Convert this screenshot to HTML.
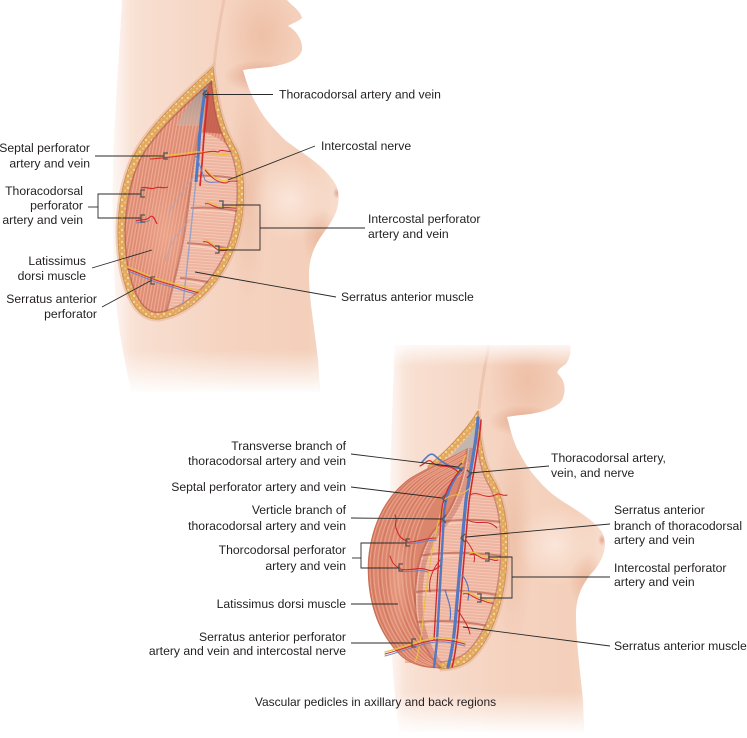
<!DOCTYPE html>
<html><head><meta charset="utf-8"><style>
html,body{margin:0;padding:0;background:#fff;}
svg{display:block;}
text{font-family:"Liberation Sans",Arial,sans-serif;font-size:12.2px;fill:#231f20;}
</style></head><body>
<svg width="747" height="738" viewBox="0 0 747 738" xmlns="http://www.w3.org/2000/svg">
<defs>
 <linearGradient id="skinT" gradientUnits="userSpaceOnUse" x1="112" y1="0" x2="342" y2="0">
  <stop offset="0" stop-color="#fcede5"/><stop offset="0.12" stop-color="#f8dfd1"/>
  <stop offset="0.5" stop-color="#f5d3c0"/><stop offset="0.85" stop-color="#f4d0bb"/>
  <stop offset="1" stop-color="#f8dfd1"/>
 </linearGradient>
 <linearGradient id="skinB" gradientUnits="userSpaceOnUse" x1="388" y1="0" x2="607" y2="0">
  <stop offset="0" stop-color="#fcede5"/><stop offset="0.12" stop-color="#f8dfd1"/>
  <stop offset="0.5" stop-color="#f5d3c0"/><stop offset="0.85" stop-color="#f4d0bb"/>
  <stop offset="1" stop-color="#f8dfd1"/>
 </linearGradient>
 <linearGradient id="fadeDown" x1="0" y1="0" x2="0" y2="1">
  <stop offset="0" stop-color="#fff" stop-opacity="0"/><stop offset="1" stop-color="#fff" stop-opacity="1"/>
 </linearGradient>
 <linearGradient id="fadeUp" x1="0" y1="0" x2="0" y2="1">
  <stop offset="0" stop-color="#fff" stop-opacity="1"/><stop offset="1" stop-color="#fff" stop-opacity="0"/>
 </linearGradient>
 <linearGradient id="fadeLeft" x1="0" y1="0" x2="1" y2="0">
  <stop offset="0" stop-color="#fff" stop-opacity="0.9"/><stop offset="1" stop-color="#fff" stop-opacity="0"/>
 </linearGradient>
 <linearGradient id="grayT" x1="0" y1="0" x2="0" y2="1">
  <stop offset="0" stop-color="#9f8f88"/><stop offset="1" stop-color="#c9b3a8" stop-opacity="0.6"/>
 </linearGradient>
 <radialGradient id="rgNeck"><stop offset="0" stop-color="#ecb99e" stop-opacity="0.75"/><stop offset="1" stop-color="#ecb99e" stop-opacity="0"/></radialGradient>
 <radialGradient id="rgChin"><stop offset="0" stop-color="#df9f82" stop-opacity="0.85"/><stop offset="1" stop-color="#df9f82" stop-opacity="0"/></radialGradient>
 <radialGradient id="rgShade"><stop offset="0" stop-color="#e8b195" stop-opacity="0.8"/><stop offset="1" stop-color="#e8b195" stop-opacity="0"/></radialGradient>
 <radialGradient id="rgSide"><stop offset="0" stop-color="#ebbaa0" stop-opacity="0.7"/><stop offset="1" stop-color="#ebbaa0" stop-opacity="0"/></radialGradient>
 <radialGradient id="rgLight"><stop offset="0" stop-color="#fcebe1" stop-opacity="0.8"/><stop offset="1" stop-color="#fcebe1" stop-opacity="0"/></radialGradient>
 <radialGradient id="rgNip"><stop offset="0" stop-color="#e3a593"/><stop offset="1" stop-color="#e3a593" stop-opacity="0"/></radialGradient>
 <radialGradient id="rgLat"><stop offset="0" stop-color="#f4b49c" stop-opacity="0.55"/><stop offset="1" stop-color="#f4b49c" stop-opacity="0"/></radialGradient>
 <pattern id="fatDots" width="6" height="6" patternUnits="userSpaceOnUse">
  <rect width="6" height="6" fill="#e2a95f"/><circle cx="2" cy="2" r="1.2" fill="#f4d69b"/><circle cx="5" cy="4.6" r="1" fill="#efc884"/>
 </pattern>
 <pattern id="latT" width="3.2" height="10" patternUnits="userSpaceOnUse" patternTransform="rotate(10)">
  <rect width="3.2" height="10" fill="#de8c73"/><rect width="1.2" height="10" fill="#efab95"/>
 </pattern>
 <pattern id="serT" width="10" height="3" patternUnits="userSpaceOnUse" patternTransform="rotate(4)">
  <rect width="10" height="3" fill="#eeb4a0"/><rect width="10" height="0.8" fill="#f6cdbc"/>
 </pattern>
 <clipPath id="bodyTc"><path d="M122,0 L287,0 C292,6 300,10 302,18 C298,22 290,24 288,26 C296,30 303,40 302,50 C299,60 288,64 270,67 C258,68 248,69 243,70 C247,85 252,97 257,105 C265,120 275,130 285,140 C300,152 325,165 336,185 C344,205 332,222 322,235 C313,248 309,260 309,275 C309,300 315,330 318,360 L320,392 L132,392 C126,370 118,330 115,290 C112,240 112,170 115,120 C117,80 120,40 122,0 Z"/></clipPath>
 <clipPath id="bodyBc"><path d="M395,345 L570,345 C571,352 570,358 566,364 C560,368 556,371 558,374 C565,380 566,390 563,398 C560,406 548,411 530,414 C520,415 512,416 507,417 C511,432 514,444 519,452 C528,470 540,483 550,492 C565,505 590,515 602,532 C610,548 600,565 590,575 C580,588 576,600 576,615 C576,640 580,670 583,700 L584,732 L400,732 C394,700 391,650 390,600 C389,540 390,470 392,420 C393,390 394,365 395,345 Z"/></clipPath>
 <clipPath id="clipT"><path d="M212,80 C214,103 217,126 230,149 C241,170 241,214 228,248 C216,278 192,307 160,313 C143,315 133,296 127,266 C121,230 125,184 143,153 C161,124 192,98 212,80 Z"/></clipPath>
 <clipPath id="clipB"><path d="M477,424 C478,445 479,465 488,482 C500,502 503,532 501,562 C499,598 487,634 467,653 C458,660 448,662 440,663 L405,663 L405,500 L432,470 C447,458 465,442 477,424 Z"/></clipPath>
 <clipPath id="latBc"><path d="M468,448 C450,458 430,466 410,478 C385,496 371,525 368,560 C366,600 378,635 402,657 C413,666 428,669 442,668 C428,655 416,630 416,600 C416,565 425,540 440,525 C455,508 465,480 468,448 Z"/></clipPath>
 <path id="latArc" d="M470,444 C452,456 430,466 410,478 C385,496 371,525 368,560 C366,600 378,635 402,657 C413,666 428,669 442,668"/>
</defs>

<!-- ================= TOP FIGURE ================= -->
<g clip-path="url(#bodyTc)">
 <rect x="100" y="0" width="260" height="400" fill="url(#skinT)"/>
 <ellipse cx="262" cy="35" rx="38" ry="55" fill="url(#rgNeck)"/>
 <ellipse cx="258" cy="76" rx="34" ry="16" fill="url(#rgChin)"/>
 <path d="M214,66 C216,45 220,20 224,0" stroke="#e9bea6" stroke-width="3" fill="none" opacity="0.7"/>
 <ellipse cx="248" cy="190" rx="20" ry="115" fill="url(#rgSide)"/>
 <ellipse cx="320" cy="238" rx="18" ry="30" fill="url(#rgShade)"/>
 <ellipse cx="290" cy="200" rx="38" ry="40" fill="url(#rgLight)"/>
 <ellipse cx="337" cy="193" rx="4" ry="6" fill="url(#rgNip)"/>
 <rect x="100" y="0" width="30" height="400" fill="url(#fadeLeft)"/>
 <rect x="100" y="350" width="260" height="44" fill="url(#fadeDown)"/>
</g>
<!-- top incision -->
<path d="M213,67 C216,92 220,122 234,146 C247,166 247,218 233,251 C220,282 194,313 160,319 C139,321 127,300 121,268 C114,228 119,180 138,148 C158,116 193,86 213,67 Z" fill="none" stroke="#eab59a" stroke-width="5" opacity="0.6"/>
<path d="M213,67 C216,92 220,122 234,146 C247,166 247,218 233,251 C220,282 194,313 160,319 C139,321 127,300 121,268 C114,228 119,180 138,148 C158,116 193,86 213,67 Z" fill="url(#fatDots)" stroke="#c98c4c" stroke-width="0.8"/>
<g clip-path="url(#clipT)">
 <rect x="110" y="60" width="140" height="270" fill="url(#latT)"/>
 <ellipse cx="165" cy="235" rx="28" ry="60" fill="url(#rgLat)"/>
 <path d="M212,80 L202,126 L176,126 C184,110 198,92 212,80 Z" fill="url(#grayT)"/>
 <path d="M207,88 L212,80 C213,100 215,118 222,134 L203,132 Z" fill="#c45a4b" opacity="0.85"/>
 <path d="M199,132 C212,134 224,140 231,150 C242,172 242,214 229,248 C217,278 193,307 166,314 C173,285 183,250 187,215 C191,185 194,155 199,132 Z" fill="url(#serT)"/>
 <g fill="none" stroke="#c47562" stroke-width="2" opacity="0.85">
  <path d="M195,176 C210,175 225,176 242,180"/>
  <path d="M191,208 C208,207 225,208 242,212"/>
  <path d="M187,243 C203,244 218,246 235,250"/>
  <path d="M180,278 C195,279 208,282 222,285"/>
 </g>
 <g fill="none" stroke="#f7d2c2" stroke-width="1.2">
  <path d="M195,179 C210,178 225,179 242,183"/>
  <path d="M191,211 C208,210 225,211 242,215"/>
  <path d="M187,246 C203,247 218,249 235,253"/>
  <path d="M180,281 C195,282 208,285 222,288"/>
 </g>
 <path d="M199,132 C194,155 191,185 187,215 C183,250 173,285 166,314" stroke="#b46250" stroke-width="2" fill="none" opacity="0.6"/>
 <path d="M212,80 C214,103 217,126 230,149 C241,170 241,214 228,248 C216,278 192,307 160,313 C143,315 133,296 127,266 C121,230 125,184 143,153 C161,124 192,98 212,80 Z" fill="none" stroke="#9c3d2e" stroke-width="3" opacity="0.45"/>
 <path d="M197,170 C193,210 188,260 182,312" stroke="#8a9bcc" stroke-width="1.4" fill="none" opacity="0.8"/>
 <path d="M195,175 C185,190 175,200 168,215 M190,220 C178,232 170,242 165,262" stroke="#a8a8c4" stroke-width="1" fill="none" opacity="0.7"/>
 <path d="M205,90 C203,105 200,125 199,145 C198,160 197,170 196,182" stroke="#4f78c4" stroke-width="3" fill="none"/>
 <path d="M208,92 C207,110 204,130 203,150 C202,165 201,175 200,186" stroke="#d42a2a" stroke-width="1.7" fill="none"/>
 <path d="M150,157 C165,156 180,154 195,152 C205,151 215,156 230,154" stroke="#e8c040" stroke-width="1.2" fill="none"/>
 <path d="M150,159 C165,158 180,156 195,154 C205,153 210,150 218,152 C222,148 226,153 232,151" stroke="#d42a2a" stroke-width="1.1" fill="none"/>
 <path d="M196,156 C200,165 202,172 205,180 C210,185 218,180 224,183" stroke="#6a86c6" stroke-width="1" fill="none"/>
 <path d="M205,168 C210,175 216,180 226,181 C231,177 236,181 241,178" stroke="#e8c040" stroke-width="1.2" fill="none"/>
 <path d="M205,170 C211,177 217,183 226,183 C231,179 236,183 241,180" stroke="#d42a2a" stroke-width="1" fill="none"/>
 <path d="M141,188 C146,186 150,190 155,188 C160,186 163,189 168,187" stroke="#d42a2a" stroke-width="1.2" fill="none"/>
 <path d="M136,221 C141,219 146,221 150,217 C153,214 155,220 157,224" stroke="#d42a2a" stroke-width="1.2" fill="none"/>
 <path d="M136,223 C141,222 146,223 150,220" stroke="#6a86c6" stroke-width="1" fill="none"/>
 <path d="M205,202 C210,200 215,207 222,206 C227,204 232,207 236,206" stroke="#e8c040" stroke-width="1.2" fill="none"/>
 <path d="M205,204 C210,202 215,209 222,208 C227,206 232,209 236,208" stroke="#d42a2a" stroke-width="1" fill="none"/>
 <path d="M203,240 C208,238 213,245 218,248 C222,250 226,247 230,249" stroke="#e8c040" stroke-width="1.2" fill="none"/>
 <path d="M203,242 C208,240 213,247 218,250 C222,252 226,249 230,251" stroke="#d42a2a" stroke-width="1" fill="none"/>
 <path d="M122,265 C135,269 150,277 165,281 C180,285 190,289 200,291" stroke="#e8c040" stroke-width="1.3" fill="none"/>
 <path d="M122,267 C135,271 150,279 165,283 C180,287 190,291 200,293" stroke="#d42a2a" stroke-width="1" fill="none"/>
 <path d="M122,269 C135,273 150,281 165,285 C180,289 190,293 200,295" stroke="#6a86c6" stroke-width="1" fill="none"/>
</g>

<!-- ================= BOTTOM FIGURE ================= -->
<g clip-path="url(#bodyBc)">
 <rect x="380" y="340" width="240" height="400" fill="url(#skinB)"/>
 <ellipse cx="527" cy="380" rx="38" ry="55" fill="url(#rgNeck)"/>
 <ellipse cx="523" cy="421" rx="34" ry="16" fill="url(#rgChin)"/>
 <path d="M479,409 C481,388 485,365 489,345" stroke="#e9bea6" stroke-width="3" fill="none" opacity="0.7"/>
 <ellipse cx="513" cy="535" rx="20" ry="115" fill="url(#rgSide)"/>
 <ellipse cx="587" cy="582" rx="18" ry="30" fill="url(#rgShade)"/>
 <ellipse cx="555" cy="545" rx="38" ry="40" fill="url(#rgLight)"/>
 <ellipse cx="602" cy="540" rx="4" ry="6" fill="url(#rgNip)"/>
 <rect x="380" y="340" width="24" height="400" fill="url(#fadeLeft)"/>
 <rect x="380" y="340" width="240" height="26" fill="url(#fadeUp)"/>
 <rect x="380" y="692" width="240" height="42" fill="url(#fadeDown)"/>
</g>
<!-- bottom incision -->
<path d="M478,411 C480,435 482,460 492,478 C505,498 509,530 507,560 C505,600 492,640 470,660 C460,667 450,669 440,669" fill="none" stroke="#eab59a" stroke-width="5" opacity="0.6"/>
<path d="M478,411 C480,435 482,460 492,478 C505,498 509,530 507,560 C505,600 492,640 470,660 C460,667 450,669 440,669 L425,662 L428,466 C445,452 465,432 478,411 Z" fill="url(#fatDots)" stroke="#c98c4c" stroke-width="0.8"/>
<g clip-path="url(#clipB)">
 <rect x="400" y="410" width="115" height="260" fill="url(#serT)"/>
 <path d="M477,424 L470,462 L446,462 C456,450 468,438 477,424 Z" fill="#c3b6ae"/>
 <g fill="none" stroke="#c47562" stroke-width="2" opacity="0.85">
  <path d="M425,524 C445,520 470,518 502,522"/>
  <path d="M418,556 C440,552 470,552 503,556"/>
  <path d="M416,592 C440,589 470,590 498,595"/>
  <path d="M418,622 C440,620 465,621 488,626"/>
 </g>
 <g fill="none" stroke="#f7d2c2" stroke-width="1.2">
  <path d="M425,527 C445,523 470,521 502,525"/>
  <path d="M418,559 C440,555 470,555 503,559"/>
  <path d="M416,595 C440,592 470,593 498,598"/>
  <path d="M418,625 C440,623 465,624 488,629"/>
 </g>
 <path d="M477,424 C478,445 479,465 488,482 C500,502 503,532 501,562 C499,598 487,634 467,653 C458,660 448,662 440,663" fill="none" stroke="#9c3d2e" stroke-width="3" opacity="0.4"/>
 <path d="M444,668 C430,655 420,630 420,600 C420,565 429,540 444,525 C459,508 469,480 472,448" fill="none" stroke="#b5503f" stroke-width="5" opacity="0.35"/>
</g>
<!-- latissimus flap -->
<path d="M468,448 C450,458 430,466 410,478 C385,496 371,525 368,560 C366,600 378,635 402,657 C413,666 428,669 442,668 C428,655 416,630 416,600 C416,565 425,540 440,525 C455,508 465,480 468,448 Z" fill="#da856c"/>
<g clip-path="url(#latBc)" fill="none">
 <g stroke="#eda68e" stroke-width="1.2" opacity="0.85">
  <use href="#latArc" transform="translate(2,0)"/><use href="#latArc" transform="translate(6,0)"/>
  <use href="#latArc" transform="translate(10,0)"/><use href="#latArc" transform="translate(14,0)"/>
  <use href="#latArc" transform="translate(18,0)"/><use href="#latArc" transform="translate(22,0)"/>
  <use href="#latArc" transform="translate(26,0)"/><use href="#latArc" transform="translate(30,0)"/>
  <use href="#latArc" transform="translate(34,0)"/><use href="#latArc" transform="translate(38,0)"/>
  <use href="#latArc" transform="translate(42,0)"/><use href="#latArc" transform="translate(46,0)"/>
 </g>
 <g stroke="#c4674f" stroke-width="0.8" opacity="0.55">
  <use href="#latArc" transform="translate(4,0)"/><use href="#latArc" transform="translate(12,0)"/>
  <use href="#latArc" transform="translate(20,0)"/><use href="#latArc" transform="translate(28,0)"/>
  <use href="#latArc" transform="translate(36,0)"/><use href="#latArc" transform="translate(44,0)"/>
 </g>
 <use href="#latArc" stroke="#b9593f" stroke-width="3" opacity="0.5"/>
 <path d="M442,668 C428,655 416,630 416,600 C416,565 425,540 440,525 C455,508 465,480 468,448" stroke="#a8473a" stroke-width="4" opacity="0.35"/>
 <ellipse cx="398" cy="580" rx="12" ry="60" fill="url(#rgLat)"/>
</g>
<!-- bottom vessels -->
<g fill="none" stroke-linecap="round">
 <path d="M466,455 C458,470 448,490 440,515 C432,545 426,585 423,620 C421,640 418,655 415,662" stroke="#e8c040" stroke-width="1.2"/>
 <path d="M478,418 C477,440 470,470 466,500 C462,540 458,590 455,625 C453,645 450,660 448,667" stroke="#5578c0" stroke-width="3.2"/>
 <path d="M481,420 C480,442 473,472 469,502 C465,545 461,595 458,630 C456,648 454,660 452,667" stroke="#d02828" stroke-width="1.5"/>
 <path d="M463,468 C452,480 445,495 444,515 C442,550 440,590 437,640 C436,652 435,660 434,667" stroke="#5578c0" stroke-width="2.4"/>
 <path d="M460,470 C450,482 442,497 441,517 C439,552 437,592 434,640" stroke="#d02828" stroke-width="1.3"/>
 <path d="M463,468 C452,470 442,462 434,455 C430,452 426,458 422,462" stroke="#5578c0" stroke-width="1.6"/>
 <path d="M458,472 C448,462 440,470 432,462 C428,458 425,464 420,466" stroke="#d02828" stroke-width="1.2"/>
 <path d="M444,500 C452,492 460,498 470,488" stroke="#e8c040" stroke-width="1"/>
 <path d="M470,495 C478,490 485,500 495,495 C500,492 503,497 507,495" stroke="#d02828" stroke-width="1"/>
 <path d="M468,520 C478,526 488,518 497,528" stroke="#d02828" stroke-width="1"/>
 <path d="M466,540 C472,548 476,555 474,562" stroke="#d02828" stroke-width="1"/>
 <path d="M462,575 C468,582 470,590 468,600" stroke="#5578c0" stroke-width="1.2"/>
 <path d="M440,560 C432,570 428,580 430,592" stroke="#d02828" stroke-width="1"/>
 <path d="M445,590 C448,600 452,608 450,620" stroke="#5578c0" stroke-width="1.2"/>
 <path d="M458,610 C462,618 468,624 470,634" stroke="#d02828" stroke-width="1"/>
 <path d="M407,543 C415,545 425,540 436,540" stroke="#6a86c6" stroke-width="1.2"/>
 <path d="M407,541 C400,539 398,534 396,528 C394,522 398,520 395,515" stroke="#d02828" stroke-width="1.1"/>
 <path d="M407,542 C415,543 425,538 436,538" stroke="#d02828" stroke-width="1"/>
 <path d="M400,569 C410,572 418,566 428,570 C432,572 436,569 440,566" stroke="#d02828" stroke-width="1.1"/>
 <path d="M400,571 C410,574 418,568 428,572" stroke="#6a86c6" stroke-width="1"/>
 <path d="M400,568 C394,566 392,562 390,556" stroke="#d02828" stroke-width="1"/>
 <path d="M470,553 C476,550 481,558 487,557 C491,556 494,560 498,558" stroke="#e8c040" stroke-width="1.2"/>
 <path d="M470,555 C476,552 481,560 487,559 C491,558 494,562 498,560" stroke="#d02828" stroke-width="1"/>
 <path d="M463,592 C470,590 476,598 481,598 C485,599 489,602 493,601" stroke="#e8c040" stroke-width="1.2"/>
 <path d="M463,594 C470,592 476,600 481,600 C485,601 489,604 493,603" stroke="#d02828" stroke-width="1"/>
 <path d="M385,652 C400,648 413,643 425,640 C440,636 450,638 465,642" stroke="#e8c040" stroke-width="1.3"/>
 <path d="M385,654 C400,650 413,645 425,642 C440,638 450,640 465,644" stroke="#d02828" stroke-width="1"/>
 <path d="M385,656 C400,652 413,647 425,644 C440,640 450,642 465,646" stroke="#6a86c6" stroke-width="1"/>
</g>

<!-- ================= LEADER LINES ================= -->
<g stroke="#2a2a2a" stroke-width="0.9" fill="none">
 <line x1="205" y1="94.5" x2="273" y2="94.5"/>
 <line x1="228" y1="180" x2="315" y2="146"/>
 <polyline points="222,205 260,205 260,250 218,250"/>
 <line x1="260" y1="228" x2="365" y2="228"/>
 <line x1="195" y1="272" x2="336" y2="297"/>
 <line x1="95" y1="156" x2="164" y2="156"/>
 <polyline points="141,194 98,194 98,218 141,218"/>
 <line x1="88" y1="207" x2="98" y2="207"/>
 <line x1="92" y1="268" x2="152" y2="250"/>
 <line x1="102" y1="307" x2="152" y2="280"/>
 <line x1="351" y1="454" x2="458" y2="467"/>
 <line x1="351" y1="487" x2="442" y2="498"/>
 <line x1="351" y1="518" x2="442" y2="519"/>
 <polyline points="406,543 361,543 361,568 399,568"/>
 <line x1="352" y1="558" x2="361" y2="558"/>
 <line x1="351" y1="604" x2="398" y2="604"/>
 <line x1="351" y1="643" x2="412" y2="643"/>
 <line x1="470" y1="473" x2="549" y2="466"/>
 <line x1="466" y1="537" x2="610" y2="524"/>
 <polyline points="488,557 512,557 512,598 480,598"/>
 <line x1="512" y1="577" x2="610" y2="577"/>
 <line x1="463" y1="627" x2="610" y2="646"/>
</g>
<g stroke="#555" stroke-width="1.3" fill="none">
 <path d="M207,90 L203,94 L207,98"/>
 <path d="M168,153 L164,153 L164,159 L168,159"/>
 <path d="M145,190 L141,190 L141,197 L145,197"/>
 <path d="M145,215 L141,215 L141,222 L145,222"/>
 <path d="M155,277 L151,277 L151,284 L155,284"/>
 <path d="M219,201 L223,201 L223,208 L219,208"/>
 <path d="M215,246 L219,246 L219,253 L215,253"/>
 <path d="M462,463 L458,467 L462,471"/>
 <path d="M467,470 L471,474 L467,478"/>
 <path d="M446,494 L442,498 L446,502"/>
 <path d="M446,515 L442,519 L446,523"/>
 <path d="M465,534 L461,538 L465,542"/>
 <path d="M410,539 L406,539 L406,546 L410,546"/>
 <path d="M403,564 L399,564 L399,571 L403,571"/>
 <path d="M416,639 L412,639 L412,647 L416,647"/>
 <path d="M485,553 L489,553 L489,561 L485,561"/>
 <path d="M477,594 L481,594 L481,602 L477,602"/>
</g>

<!-- ================= LABELS ================= -->
<g text-anchor="end">
 <text x="90" y="152">Septal perforator</text>
 <text x="90" y="167.5">artery and vein</text>
 <text x="83" y="195">Thoracodorsal</text>
 <text x="83" y="209.5">perforator</text>
 <text x="83" y="224">artery and vein</text>
 <text x="86" y="265">Latissimus</text>
 <text x="86" y="280">dorsi muscle</text>
 <text x="97" y="303">Serratus anterior</text>
 <text x="97" y="318">perforator</text>
 <text x="346" y="450">Transverse branch of</text>
 <text x="346" y="465">thoracodorsal artery and vein</text>
 <text x="346" y="491">Septal perforator artery and vein</text>
 <text x="346" y="514">Verticle branch of</text>
 <text x="346" y="530">thoracodorsal artery and vein</text>
 <text x="346" y="554">Thorcodorsal perforator</text>
 <text x="346" y="570">artery and vein</text>
 <text x="346" y="608">Latissimus dorsi muscle</text>
 <text x="346" y="641">Serratus anterior perforator</text>
 <text x="346" y="655">artery and vein and intercostal nerve</text>
</g>
<g>
 <text x="279" y="98.5">Thoracodorsal artery and vein</text>
 <text x="321" y="150">Intercostal nerve</text>
 <text x="368" y="223">Intercostal perforator</text>
 <text x="368" y="238">artery and vein</text>
 <text x="341" y="301">Serratus anterior muscle</text>
 <text x="551" y="462">Thoracodorsal artery,</text>
 <text x="551" y="477">vein, and nerve</text>
 <text x="614" y="514">Serratus anterior</text>
 <text x="614" y="530">branch of thoracodorsal</text>
 <text x="614" y="544">artery and vein</text>
 <text x="614" y="572">Intercostal perforator</text>
 <text x="614" y="586">artery and vein</text>
 <text x="614" y="650">Serratus anterior muscle</text>
</g>
<text x="375.5" y="706" text-anchor="middle" style="font-size:12px">Vascular pedicles in axillary and back regions</text>
</svg>
</body></html>
